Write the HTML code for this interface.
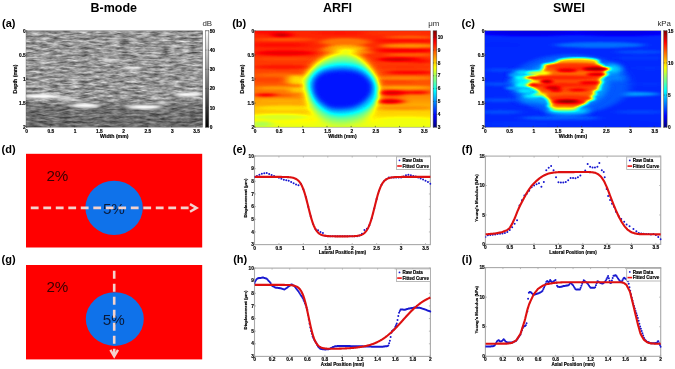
<!DOCTYPE html><html><head><meta charset="utf-8"><style>
html,body{margin:0;padding:0;background:#fff;width:675px;height:369px;overflow:hidden}
svg{display:block;will-change:transform}
text{font-family:"Liberation Sans", sans-serif}
.t{stroke:#000;stroke-width:0.16px}
</style></head><body>
<svg width="675" height="369" viewBox="0 0 675 369">
<defs>
<filter id="jet" x="0" y="0" width="1" height="1" color-interpolation-filters="sRGB">
<feComponentTransfer>
<feFuncR type="table" tableValues="0 0 0 0 0.5 1 1 1 0.5"/>
<feFuncG type="table" tableValues="0 0 0.5 1 1 1 0.5 0 0"/>
<feFuncB type="table" tableValues="0.5 1 1 1 0.5 0 0 0 0"/>
</feComponentTransfer></filter>
<clipPath id="clipa"><rect x="26" y="30.8" width="176.7" height="96.4"/></clipPath>
<clipPath id="clipb"><rect x="254.4" y="30.8" width="176.1" height="96.4"/></clipPath>
<clipPath id="clipc"><rect x="484.8" y="30.8" width="176.2" height="96.4"/></clipPath>
<linearGradient id="gjet" x1="0" y1="1" x2="0" y2="0"><stop offset="0" stop-color="#000080"/><stop offset="0.12" stop-color="#0000ff"/><stop offset="0.38" stop-color="#00ffff"/><stop offset="0.62" stop-color="#ffff00"/><stop offset="0.88" stop-color="#ff0000"/><stop offset="1" stop-color="#800000"/></linearGradient>
<linearGradient id="ggray" x1="0" y1="1" x2="0" y2="0"><stop offset="0" stop-color="#000"/><stop offset="1" stop-color="#fff"/></linearGradient>
</defs>
<rect width="675" height="369" fill="#fff"/>
<text x="113.8" y="11.9" font-size="12.5" font-weight="bold" text-anchor="middle" fill="#000">B-mode</text>
<text x="337.5" y="11.9" font-size="12.5" font-weight="bold" text-anchor="middle" fill="#000">ARFI</text>
<text x="569" y="11.9" font-size="12.5" font-weight="bold" text-anchor="middle" fill="#000">SWEI</text>
<text x="2" y="26.6" font-size="11" font-weight="bold" text-anchor="start" fill="#000">(a)</text>
<text x="232.2" y="26.6" font-size="11" font-weight="bold" text-anchor="start" fill="#000">(b)</text>
<text x="461.6" y="26.6" font-size="11" font-weight="bold" text-anchor="start" fill="#000">(c)</text>
<text x="1.6" y="152.7" font-size="11" font-weight="bold" text-anchor="start" fill="#000">(d)</text>
<text x="232.8" y="152.7" font-size="11" font-weight="bold" text-anchor="start" fill="#000">(e)</text>
<text x="461.8" y="152.7" font-size="11" font-weight="bold" text-anchor="start" fill="#000">(f)</text>
<text x="1.6" y="262.7" font-size="11" font-weight="bold" text-anchor="start" fill="#000">(g)</text>
<text x="233.2" y="262.7" font-size="11" font-weight="bold" text-anchor="start" fill="#000">(h)</text>
<text x="461.8" y="262.7" font-size="11" font-weight="bold" text-anchor="start" fill="#000">(i)</text>
<filter id="fb" x="22" y="26.8" width="184.7" height="104.4" filterUnits="userSpaceOnUse" color-interpolation-filters="sRGB">
<feTurbulence type="fractalNoise" baseFrequency="0.1 0.42" numOctaves="3" seed="11" result="n"/>
<feColorMatrix in="n" type="matrix" values="0.78 0 0 0 0.2  0.78 0 0 0 0.2  0.78 0 0 0 0.2  0 0 0 0 1"/>
<feGaussianBlur stdDeviation="0.6 0.35"/>
</filter>
<filter id="fblur1" x="-50%" y="-50%" width="200%" height="200%"><feGaussianBlur stdDeviation="3 0.9"/></filter>
<g clip-path="url(#clipa)">
<rect x="22" y="26.8" width="184.7" height="104.4" fill="#808080" filter="url(#fb)"/>
<linearGradient id="gbdark" x1="0" y1="0" x2="0" y2="1"><stop offset="0" stop-color="#000" stop-opacity="0"/><stop offset="0.70" stop-color="#000" stop-opacity="0"/><stop offset="0.78" stop-color="#000" stop-opacity="0.25"/><stop offset="1" stop-color="#000" stop-opacity="0.3"/></linearGradient>
<rect x="26" y="30.8" width="176.7" height="96.4" fill="url(#gbdark)"/>
<g filter="url(#fblur1)" fill="#fff">
<ellipse cx="42" cy="96.3" rx="17" ry="2.1" opacity="1"/>
<ellipse cx="36" cy="95.8" rx="9" ry="1.6" opacity="1"/>
<ellipse cx="64" cy="98.3" rx="8" ry="1.7" opacity="0.8"/>
<ellipse cx="74" cy="100.5" rx="7" ry="1.5" opacity="0.55"/>
<ellipse cx="85" cy="105.5" rx="15" ry="2.2" opacity="1"/>
<ellipse cx="88" cy="106" rx="8" ry="1.6" opacity="1"/>
<ellipse cx="144" cy="107" rx="18" ry="2.2" opacity="1"/>
<ellipse cx="148" cy="107.5" rx="9" ry="1.6" opacity="1"/>
<ellipse cx="162" cy="102.5" rx="9" ry="1.5" opacity="0.65"/>
<ellipse cx="188" cy="94.5" rx="14" ry="2" opacity="0.95"/>
<ellipse cx="190" cy="94.3" rx="7" ry="1.4" opacity="0.8"/>
<ellipse cx="111" cy="60.5" rx="7" ry="1.4" opacity="0.9"/>
<ellipse cx="133" cy="68.5" rx="9" ry="1.4" opacity="0.9"/>
<ellipse cx="40" cy="60" rx="4" ry="1" opacity="0.35"/>
<ellipse cx="194" cy="62" rx="5" ry="1" opacity="0.35"/>
<ellipse cx="66" cy="89" rx="7" ry="1.5" opacity="0.25"/>
</g>
</g>
<filter id="fbs" x="-20%" y="-20%" width="140%" height="140%" color-interpolation-filters="sRGB"><feGaussianBlur stdDeviation="5 1.2"/></filter>
<filter id="fbb" x="-30%" y="-30%" width="160%" height="160%" color-interpolation-filters="sRGB"><feGaussianBlur stdDeviation="3.5"/></filter>
<filter id="fbb2" x="-30%" y="-30%" width="160%" height="160%" color-interpolation-filters="sRGB"><feGaussianBlur stdDeviation="2.4"/></filter>
<linearGradient id="garfi" x1="0" y1="0" x2="0" y2="1"><stop offset="0" stop-color="#d6d6d6"/><stop offset="0.2" stop-color="#d6d6d6"/><stop offset="0.4" stop-color="#cfcfcf"/><stop offset="0.55" stop-color="#c9c9c9"/><stop offset="0.65" stop-color="#bebebe"/><stop offset="0.75" stop-color="#b4b4b4"/><stop offset="0.85" stop-color="#a7a7a7"/><stop offset="0.92" stop-color="#9c9c9c"/><stop offset="1" stop-color="#969696"/></linearGradient>
<g clip-path="url(#clipb)"><g filter="url(#jet)">
<g filter="url(#fbs)">
<rect x="239.4" y="25.8" width="206.1" height="106.4" fill="url(#garfi)"/>
<ellipse cx="270" cy="32" rx="20" ry="2" fill="#dddddd"/>
<ellipse cx="282" cy="35" rx="9" ry="2" fill="#eeeeee"/>
<ellipse cx="284" cy="39.5" rx="32" ry="1.5" fill="#c9c9c9"/>
<ellipse cx="280" cy="45" rx="30" ry="2" fill="#dddddd"/>
<ellipse cx="285" cy="53" rx="30" ry="2.5" fill="#e4e4e4"/>
<ellipse cx="285" cy="59" rx="30" ry="1.6" fill="#cccccc"/>
<ellipse cx="282" cy="67" rx="30" ry="2.2" fill="#dadada"/>
<ellipse cx="280" cy="75" rx="25" ry="2" fill="#c5c5c5"/>
<ellipse cx="340" cy="33" rx="25" ry="2" fill="#dadada"/>
<ellipse cx="345" cy="42" rx="25" ry="4" fill="#c2c2c2"/>
<ellipse cx="346" cy="48" rx="22" ry="3" fill="#b4b4b4"/>
<ellipse cx="350" cy="51" rx="12" ry="2.2" fill="#a7a7a7"/>
<ellipse cx="330" cy="50" rx="10" ry="2" fill="#bebebe"/>
<ellipse cx="362" cy="52" rx="10" ry="2" fill="#bebebe"/>
<ellipse cx="400" cy="33" rx="35" ry="2.5" fill="#d3d3d3"/>
<ellipse cx="410" cy="37.3" rx="25" ry="1.2" fill="#c2c2c2"/>
<ellipse cx="405" cy="40.5" rx="30" ry="1.8" fill="#dddddd"/>
<ellipse cx="410" cy="45.8" rx="30" ry="2.2" fill="#bbbbbb"/>
<ellipse cx="405" cy="50.6" rx="30" ry="1.8" fill="#e4e4e4"/>
<ellipse cx="410" cy="54.7" rx="25" ry="1.5" fill="#c5c5c5"/>
<ellipse cx="400" cy="59.5" rx="22" ry="2" fill="#ebebeb"/>
<ellipse cx="420" cy="61" rx="12" ry="2" fill="#dddddd"/>
<ellipse cx="405" cy="67" rx="30" ry="2" fill="#d3d3d3"/>
<ellipse cx="410" cy="72.5" rx="25" ry="1.8" fill="#e0e0e0"/>
<ellipse cx="405" cy="78" rx="30" ry="2" fill="#bebebe"/>
<ellipse cx="396" cy="82" rx="18" ry="1.6" fill="#cfcfcf"/>
<ellipse cx="405" cy="87.5" rx="30" ry="1.5" fill="#b4b4b4"/>
<ellipse cx="392" cy="92.8" rx="16" ry="2.6" fill="#e7e7e7"/>
<ellipse cx="418" cy="92.5" rx="12" ry="1.7" fill="#e0e0e0"/>
<ellipse cx="392" cy="97" rx="14" ry="0.8" fill="#cfcfcf"/>
<ellipse cx="390" cy="101.4" rx="14" ry="2.6" fill="#e7e7e7"/>
<ellipse cx="405" cy="108" rx="30" ry="2" fill="#bbbbbb"/>
<ellipse cx="405" cy="113" rx="30" ry="2" fill="#aaaaaa"/>
<ellipse cx="405" cy="120" rx="30" ry="3" fill="#9c9c9c"/>
<ellipse cx="270" cy="80" rx="20" ry="2" fill="#cfcfcf"/>
<ellipse cx="280" cy="88" rx="25" ry="2" fill="#b8b8b8"/>
<ellipse cx="296" cy="80" rx="9" ry="5" fill="#a7a7a7"/>
<ellipse cx="297" cy="90" rx="7" ry="3" fill="#aaaaaa"/>
<ellipse cx="266" cy="95" rx="12" ry="1.6" fill="#e7e7e7"/>
<ellipse cx="285" cy="95.5" rx="10" ry="1.5" fill="#c9c9c9"/>
<ellipse cx="280" cy="101" rx="25" ry="2" fill="#b4b4b4"/>
<ellipse cx="285" cy="108" rx="30" ry="2.5" fill="#a7a7a7"/>
<ellipse cx="280" cy="117" rx="30" ry="3" fill="#969696"/>
<ellipse cx="262" cy="124" rx="10" ry="3" fill="#8b8b8b"/>
</g>
<g filter="url(#fbb)">
<path d="M303 82 Q305 74 318 62 Q330 53 344 52 Q357 53 364 61 Q374 71 378 83 Q379 92 377 100 Q374 112 364 119 Q346 126 328 122 Q314 116 308 102Z" fill="#777777" opacity="0.92"/>
</g>
<g filter="url(#fbb2)">
<path d="M307.5 86 Q308 76 320 68 Q332 63 342 63 Q356 63 364 68 Q373 75 376.5 84 Q378 92 376 99 Q372 108 358 113 Q342 118 329 114 Q317 108 312 98Z" fill="#525252" opacity="0.95"/>
</g>
<g filter="url(#fbb2)">
<path d="M313 84 Q314 75 325 71 Q333 69 342 69 Q353 69 360 72 Q368 76 371.5 83 Q373.5 89 370.5 95 Q365 104 353 108 Q342 110.5 330 108.5 Q320 104 316 97 Q312.5 91 313 84Z" fill="#252525"/>
</g>
</g></g>
<filter id="fcs" x="-20%" y="-20%" width="140%" height="140%" color-interpolation-filters="sRGB"><feGaussianBlur stdDeviation="4 1.3"/></filter>
<filter id="fch" x="-30%" y="-30%" width="160%" height="160%" color-interpolation-filters="sRGB"><feGaussianBlur stdDeviation="3.5 2.2"/></filter>
<filter id="fcb" x="-30%" y="-30%" width="160%" height="160%" color-interpolation-filters="sRGB"><feGaussianBlur stdDeviation="2 1.2"/></filter>
<filter id="fce" x="-30%" y="-30%" width="160%" height="160%" color-interpolation-filters="sRGB"><feGaussianBlur stdDeviation="2 1"/></filter>
<filter id="fcd" x="-30%" y="-30%" width="160%" height="160%" color-interpolation-filters="sRGB"><feGaussianBlur stdDeviation="2 0.8"/></filter>
<g clip-path="url(#clipc)"><g filter="url(#jet)">
<g filter="url(#fcs)">
<rect x="469.8" y="25.8" width="206.2" height="106.4" fill="#2a2a2a"/>
<ellipse cx="530" cy="33" rx="50" ry="3" fill="#1a1a1a"/>
<ellipse cx="620" cy="33" rx="50" ry="3" fill="#1b1b1b"/>
<ellipse cx="500" cy="45" rx="20" ry="2" fill="#292929"/>
<ellipse cx="600" cy="45" rx="45" ry="3" fill="#3c3c3c"/>
<ellipse cx="640" cy="52" rx="25" ry="2" fill="#333333"/>
<ellipse cx="500" cy="58" rx="22" ry="2" fill="#2a2a2a"/>
<ellipse cx="640" cy="58" rx="25" ry="2" fill="#2e2e2e"/>
<ellipse cx="500" cy="70" rx="15" ry="2" fill="#313131"/>
<ellipse cx="650" cy="68" rx="18" ry="2" fill="#2c2c2c"/>
<ellipse cx="500" cy="84" rx="18" ry="2" fill="#333333"/>
<ellipse cx="650" cy="84" rx="20" ry="2" fill="#2c2c2c"/>
<ellipse cx="500" cy="100" rx="20" ry="2" fill="#333333"/>
<ellipse cx="628" cy="94" rx="32" ry="2.2" fill="#474747"/>
<ellipse cx="500" cy="112" rx="22" ry="2" fill="#333333"/>
<ellipse cx="560" cy="118" rx="40" ry="2" fill="#383838"/>
<ellipse cx="640" cy="112" rx="25" ry="2" fill="#313131"/>
<ellipse cx="520" cy="124" rx="40" ry="3" fill="#2c2c2c"/>
<ellipse cx="620" cy="124" rx="40" ry="3" fill="#292929"/>
<ellipse cx="570" cy="84" rx="60" ry="30" fill="#363636"/>
</g>
<g filter="url(#fch)">
<ellipse cx="566" cy="84" rx="42" ry="24" fill="#4e4e4e" opacity="0.8"/>
<ellipse cx="521" cy="73" rx="9" ry="2.2" fill="#666666" opacity="0.8"/>
<ellipse cx="519" cy="81" rx="9" ry="2.5" fill="#696969" opacity="0.8"/>
<ellipse cx="522" cy="89" rx="9" ry="2.2" fill="#636363" opacity="0.8"/>
<ellipse cx="528" cy="96" rx="9" ry="2" fill="#5f5f5f" opacity="0.7"/>
<ellipse cx="612" cy="69" rx="10" ry="5" fill="#5c5c5c" opacity="0.8"/>
<ellipse cx="616" cy="78" rx="10" ry="2" fill="#4e4e4e" opacity="0.7"/>
<ellipse cx="568" cy="111" rx="22" ry="3.5" fill="#636363" opacity="0.8"/>
<ellipse cx="530" cy="101" rx="12" ry="1.5" fill="#555555" opacity="0.7"/>
</g>
<g filter="url(#fce)">
<ellipse cx="521" cy="77.6" rx="7" ry="2" fill="#666666"/>
<ellipse cx="522" cy="85" rx="7" ry="2" fill="#666666"/>
<ellipse cx="523" cy="81.5" rx="6" ry="1.5" fill="#5f5f5f"/>
<ellipse cx="524" cy="72.5" rx="7" ry="1.6" fill="#585858"/>
<ellipse cx="526" cy="91" rx="8" ry="1.8" fill="#5c5c5c"/>
<ellipse cx="532" cy="96" rx="8" ry="1.6" fill="#5f5f5f"/>
<ellipse cx="514" cy="75" rx="6" ry="1.5" fill="#4b4b4b"/>
<ellipse cx="513" cy="88" rx="8" ry="1.5" fill="#4b4b4b"/>
</g>
<g filter="url(#fcb)">
<path d="M545 66 Q558 60 578 60 Q594 60 600 65 L606 69 L604 76 L600 80 L600 86 L595 90 L591 98 L585 104 L576 107.5 L560 107.5 L551 103 L547 98 L541 95 L538 91 L531 87 L530 83 L533 78 L538 74 L542 70Z" fill="#c9c9c9"/>
<ellipse cx="578" cy="61.5" rx="21" ry="3.5" fill="#b1b1b1"/>
<ellipse cx="573" cy="65.5" rx="30" ry="3" fill="#d1d1d1"/>
<ellipse cx="582" cy="69" rx="28" ry="2.5" fill="#d6d6d6"/>
<ellipse cx="567" cy="73" rx="36" ry="2.5" fill="#c5c5c5"/>
<ellipse cx="539" cy="73" rx="12" ry="2" fill="#999999"/>
<ellipse cx="563" cy="77.6" rx="38" ry="2" fill="#d8d8d8"/>
<ellipse cx="565" cy="81.7" rx="38" ry="2" fill="#cccccc"/>
<ellipse cx="536" cy="81.7" rx="9" ry="1.5" fill="#9c9c9c"/>
<ellipse cx="563" cy="85" rx="36" ry="2" fill="#d8d8d8"/>
<ellipse cx="569" cy="89" rx="31" ry="2.5" fill="#cfcfcf"/>
<ellipse cx="570" cy="94" rx="26" ry="2.5" fill="#c9c9c9"/>
<ellipse cx="540" cy="94.5" rx="7" ry="1.5" fill="#969696"/>
<ellipse cx="571" cy="98.5" rx="23" ry="3" fill="#d4d4d4"/>
<ellipse cx="568" cy="102.5" rx="19" ry="2.5" fill="#dbdbdb"/>
<ellipse cx="564" cy="106" rx="16" ry="2" fill="#c9c9c9"/>
<ellipse cx="564" cy="109.2" rx="14" ry="1.8" fill="#929292"/>
</g>
<g filter="url(#fcd)">
<ellipse cx="596" cy="68.8" rx="13" ry="1.6" fill="#ffffff"/>
<ellipse cx="597" cy="74.3" rx="11" ry="1.3" fill="#f8f8f8"/>
<ellipse cx="567" cy="70.5" rx="10" ry="1.3" fill="#f1f1f1"/>
<ellipse cx="531" cy="77.6" rx="6" ry="1.2" fill="#ebebeb"/>
<ellipse cx="532" cy="85" rx="6" ry="1.2" fill="#e7e7e7"/>
<ellipse cx="546" cy="81.5" rx="7" ry="1.5" fill="#fcfcfc"/>
<ellipse cx="553" cy="87.7" rx="8" ry="1.3" fill="#f8f8f8"/>
<ellipse cx="556" cy="90.5" rx="6" ry="1.1" fill="#f1f1f1"/>
<ellipse cx="567" cy="101.3" rx="12" ry="1.6" fill="#ffffff"/>
<ellipse cx="590" cy="82.6" rx="11" ry="1.2" fill="#eeeeee"/>
<ellipse cx="578" cy="90" rx="10" ry="1.2" fill="#e7e7e7"/>
</g>
</g></g>
<rect x="26" y="30.8" width="176.7" height="96.4" fill="none" stroke="#555" stroke-width="0.5" opacity="0.7"/>
<path d="M26 127.2v-1.3M50.27 127.2v-1.3M74.54 127.2v-1.3M98.82 127.2v-1.3M123.09 127.2v-1.3M147.36 127.2v-1.3M171.63 127.2v-1.3M195.9 127.2v-1.3M26 30.8h1.3M26 54.9h1.3M26 79h1.3M26 103.1h1.3M26 127.2h1.3" stroke="#333" stroke-width="0.6" fill="none"/>
<text x="26.6" y="133.1" class="t" font-size="4.8" font-weight="bold" text-anchor="middle" fill="#000">0</text>
<text x="50.87" y="133.1" class="t" font-size="4.8" font-weight="bold" text-anchor="middle" fill="#000">0.5</text>
<text x="75.14" y="133.1" class="t" font-size="4.8" font-weight="bold" text-anchor="middle" fill="#000">1</text>
<text x="99.42" y="133.1" class="t" font-size="4.8" font-weight="bold" text-anchor="middle" fill="#000">1.5</text>
<text x="123.69" y="133.1" class="t" font-size="4.8" font-weight="bold" text-anchor="middle" fill="#000">2</text>
<text x="147.96" y="133.1" class="t" font-size="4.8" font-weight="bold" text-anchor="middle" fill="#000">2.5</text>
<text x="172.23" y="133.1" class="t" font-size="4.8" font-weight="bold" text-anchor="middle" fill="#000">3</text>
<text x="196.5" y="133.1" class="t" font-size="4.8" font-weight="bold" text-anchor="middle" fill="#000">3.5</text>
<text x="25.7" y="32.5" class="t" font-size="4.8" font-weight="bold" text-anchor="end" fill="#000">0</text>
<text x="25.7" y="56.6" class="t" font-size="4.8" font-weight="bold" text-anchor="end" fill="#000">0.5</text>
<text x="25.7" y="80.7" class="t" font-size="4.8" font-weight="bold" text-anchor="end" fill="#000">1</text>
<text x="25.7" y="104.8" class="t" font-size="4.8" font-weight="bold" text-anchor="end" fill="#000">1.5</text>
<text x="25.7" y="128.9" class="t" font-size="4.8" font-weight="bold" text-anchor="end" fill="#000">2</text>
<text x="114.35" y="138.4" class="t" font-size="5.2" font-weight="bold" text-anchor="middle" fill="#000">Width (mm)</text>
<text transform="translate(17.2 79) rotate(-90)" class="t" font-size="5.2" font-weight="bold" text-anchor="middle" fill="#000">Depth (mm)</text>
<rect x="254.4" y="30.8" width="176.1" height="96.4" fill="none" stroke="#555" stroke-width="0.5" opacity="0.7"/>
<path d="M254.4 127.2v-1.3M278.59 127.2v-1.3M302.78 127.2v-1.3M326.97 127.2v-1.3M351.16 127.2v-1.3M375.35 127.2v-1.3M399.54 127.2v-1.3M423.73 127.2v-1.3M254.4 30.8h1.3M254.4 54.9h1.3M254.4 79h1.3M254.4 103.1h1.3M254.4 127.2h1.3" stroke="#333" stroke-width="0.6" fill="none"/>
<text x="255" y="133.1" class="t" font-size="4.8" font-weight="bold" text-anchor="middle" fill="#000">0</text>
<text x="279.19" y="133.1" class="t" font-size="4.8" font-weight="bold" text-anchor="middle" fill="#000">0.5</text>
<text x="303.38" y="133.1" class="t" font-size="4.8" font-weight="bold" text-anchor="middle" fill="#000">1</text>
<text x="327.57" y="133.1" class="t" font-size="4.8" font-weight="bold" text-anchor="middle" fill="#000">1.5</text>
<text x="351.76" y="133.1" class="t" font-size="4.8" font-weight="bold" text-anchor="middle" fill="#000">2</text>
<text x="375.95" y="133.1" class="t" font-size="4.8" font-weight="bold" text-anchor="middle" fill="#000">2.5</text>
<text x="400.14" y="133.1" class="t" font-size="4.8" font-weight="bold" text-anchor="middle" fill="#000">3</text>
<text x="424.33" y="133.1" class="t" font-size="4.8" font-weight="bold" text-anchor="middle" fill="#000">3.5</text>
<text x="254.1" y="32.5" class="t" font-size="4.8" font-weight="bold" text-anchor="end" fill="#000">0</text>
<text x="254.1" y="56.6" class="t" font-size="4.8" font-weight="bold" text-anchor="end" fill="#000">0.5</text>
<text x="254.1" y="80.7" class="t" font-size="4.8" font-weight="bold" text-anchor="end" fill="#000">1</text>
<text x="254.1" y="104.8" class="t" font-size="4.8" font-weight="bold" text-anchor="end" fill="#000">1.5</text>
<text x="254.1" y="128.9" class="t" font-size="4.8" font-weight="bold" text-anchor="end" fill="#000">2</text>
<text x="342.45" y="138.4" class="t" font-size="5.2" font-weight="bold" text-anchor="middle" fill="#000">Width (mm)</text>
<text transform="translate(244 79) rotate(-90)" class="t" font-size="5.2" font-weight="bold" text-anchor="middle" fill="#000">Depth (mm)</text>
<rect x="484.8" y="30.8" width="176.2" height="96.4" fill="none" stroke="#555" stroke-width="0.5" opacity="0.7"/>
<path d="M484.8 127.2v-1.3M509 127.2v-1.3M533.21 127.2v-1.3M557.41 127.2v-1.3M581.61 127.2v-1.3M605.82 127.2v-1.3M630.02 127.2v-1.3M654.22 127.2v-1.3M484.8 30.8h1.3M484.8 54.9h1.3M484.8 79h1.3M484.8 103.1h1.3M484.8 127.2h1.3" stroke="#333" stroke-width="0.6" fill="none"/>
<text x="485.4" y="133.1" class="t" font-size="4.8" font-weight="bold" text-anchor="middle" fill="#000">0</text>
<text x="509.6" y="133.1" class="t" font-size="4.8" font-weight="bold" text-anchor="middle" fill="#000">0.5</text>
<text x="533.81" y="133.1" class="t" font-size="4.8" font-weight="bold" text-anchor="middle" fill="#000">1</text>
<text x="558.01" y="133.1" class="t" font-size="4.8" font-weight="bold" text-anchor="middle" fill="#000">1.5</text>
<text x="582.21" y="133.1" class="t" font-size="4.8" font-weight="bold" text-anchor="middle" fill="#000">2</text>
<text x="606.42" y="133.1" class="t" font-size="4.8" font-weight="bold" text-anchor="middle" fill="#000">2.5</text>
<text x="630.62" y="133.1" class="t" font-size="4.8" font-weight="bold" text-anchor="middle" fill="#000">3</text>
<text x="654.82" y="133.1" class="t" font-size="4.8" font-weight="bold" text-anchor="middle" fill="#000">3.5</text>
<text x="484.5" y="32.5" class="t" font-size="4.8" font-weight="bold" text-anchor="end" fill="#000">0</text>
<text x="484.5" y="56.6" class="t" font-size="4.8" font-weight="bold" text-anchor="end" fill="#000">0.5</text>
<text x="484.5" y="80.7" class="t" font-size="4.8" font-weight="bold" text-anchor="end" fill="#000">1</text>
<text x="484.5" y="104.8" class="t" font-size="4.8" font-weight="bold" text-anchor="end" fill="#000">1.5</text>
<text x="484.5" y="128.9" class="t" font-size="4.8" font-weight="bold" text-anchor="end" fill="#000">2</text>
<text x="572.9" y="138.4" class="t" font-size="5.2" font-weight="bold" text-anchor="middle" fill="#000">Width (mm)</text>
<text transform="translate(474.4 79) rotate(-90)" class="t" font-size="5.2" font-weight="bold" text-anchor="middle" fill="#000">Depth (mm)</text>
<rect x="205.5" y="30.8" width="3.3" height="96.4" fill="url(#ggray)" stroke="#444" stroke-width="0.5"/>
<path d="M205.5 127.2h1M208.8 127.2h-1" stroke="#333" stroke-width="0.5"/>
<text x="209.7" y="128.9" class="t" font-size="4.8" font-weight="bold" fill="#000">0</text>
<path d="M205.5 107.92h1M208.8 107.92h-1" stroke="#333" stroke-width="0.5"/>
<text x="209.7" y="109.62" class="t" font-size="4.8" font-weight="bold" fill="#000">10</text>
<path d="M205.5 88.64h1M208.8 88.64h-1" stroke="#333" stroke-width="0.5"/>
<text x="209.7" y="90.34" class="t" font-size="4.8" font-weight="bold" fill="#000">20</text>
<path d="M205.5 69.36h1M208.8 69.36h-1" stroke="#333" stroke-width="0.5"/>
<text x="209.7" y="71.06" class="t" font-size="4.8" font-weight="bold" fill="#000">30</text>
<path d="M205.5 50.08h1M208.8 50.08h-1" stroke="#333" stroke-width="0.5"/>
<text x="209.7" y="51.78" class="t" font-size="4.8" font-weight="bold" fill="#000">40</text>
<path d="M205.5 30.8h1M208.8 30.8h-1" stroke="#333" stroke-width="0.5"/>
<text x="209.7" y="32.5" class="t" font-size="4.8" font-weight="bold" fill="#000">50</text>
<text x="207.3" y="26" font-size="7.9" text-anchor="middle" fill="#2a2a2a">dB</text>
<rect x="433.1" y="30.8" width="3.7" height="96.4" fill="url(#gjet)" stroke="#444" stroke-width="0.5"/>
<path d="M433.1 127.2h1M436.8 127.2h-1" stroke="#333" stroke-width="0.5"/>
<text x="437.7" y="128.9" class="t" font-size="4.8" font-weight="bold" fill="#000">3</text>
<path d="M433.1 114.35h1M436.8 114.35h-1" stroke="#333" stroke-width="0.5"/>
<text x="437.7" y="116.05" class="t" font-size="4.8" font-weight="bold" fill="#000">4</text>
<path d="M433.1 101.49h1M436.8 101.49h-1" stroke="#333" stroke-width="0.5"/>
<text x="437.7" y="103.19" class="t" font-size="4.8" font-weight="bold" fill="#000">5</text>
<path d="M433.1 88.64h1M436.8 88.64h-1" stroke="#333" stroke-width="0.5"/>
<text x="437.7" y="90.34" class="t" font-size="4.8" font-weight="bold" fill="#000">6</text>
<path d="M433.1 75.79h1M436.8 75.79h-1" stroke="#333" stroke-width="0.5"/>
<text x="437.7" y="77.49" class="t" font-size="4.8" font-weight="bold" fill="#000">7</text>
<path d="M433.1 62.93h1M436.8 62.93h-1" stroke="#333" stroke-width="0.5"/>
<text x="437.7" y="64.63" class="t" font-size="4.8" font-weight="bold" fill="#000">8</text>
<path d="M433.1 50.08h1M436.8 50.08h-1" stroke="#333" stroke-width="0.5"/>
<text x="437.7" y="51.78" class="t" font-size="4.8" font-weight="bold" fill="#000">9</text>
<path d="M433.1 37.23h1M436.8 37.23h-1" stroke="#333" stroke-width="0.5"/>
<text x="437.7" y="38.93" class="t" font-size="4.8" font-weight="bold" fill="#000">10</text>
<text x="433.7" y="26" font-size="7.9" text-anchor="middle" fill="#2a2a2a">μm</text>
<rect x="663.7" y="30.8" width="3.4" height="96.4" fill="url(#gjet)" stroke="#444" stroke-width="0.5"/>
<path d="M663.7 127.2h1M667.1 127.2h-1" stroke="#333" stroke-width="0.5"/>
<text x="668" y="128.9" class="t" font-size="4.8" font-weight="bold" fill="#000">0</text>
<path d="M663.7 95.07h1M667.1 95.07h-1" stroke="#333" stroke-width="0.5"/>
<text x="668" y="96.77" class="t" font-size="4.8" font-weight="bold" fill="#000">5</text>
<path d="M663.7 62.93h1M667.1 62.93h-1" stroke="#333" stroke-width="0.5"/>
<text x="668" y="64.63" class="t" font-size="4.8" font-weight="bold" fill="#000">10</text>
<path d="M663.7 30.8h1M667.1 30.8h-1" stroke="#333" stroke-width="0.5"/>
<text x="668" y="32.5" class="t" font-size="4.8" font-weight="bold" fill="#000">15</text>
<text x="664.2" y="26" font-size="7.9" text-anchor="middle" fill="#2a2a2a">kPa</text>
<rect x="26" y="153.8" width="176.2" height="93.7" fill="#ff0000"/>
<ellipse cx="114.1" cy="207.9" rx="28.7" ry="27.1" fill="#0f72ea"/>
<text x="46.4" y="181" font-size="15.2" fill="#3a0000">2%</text>
<text x="102.9" y="214.1" font-size="15.2" fill="#0a1a3a">5%</text>
<line x1="30.8" y1="207.9" x2="192" y2="207.9" stroke="#f4d2cc" stroke-width="2.8" stroke-dasharray="7.8 4.7"/>
<polyline points="190,204.1 196.6,207.9 190,211.7" fill="none" stroke="#f4d2cc" stroke-width="2.4" stroke-linejoin="miter"/>
<rect x="26" y="265" width="176.2" height="94.4" fill="#ff0000"/>
<ellipse cx="114.8" cy="319.1" rx="29" ry="26.8" fill="#0f72ea"/>
<text x="46.4" y="292.2" font-size="15.2" fill="#3a0000">2%</text>
<text x="102.7" y="325.3" font-size="15.2" fill="#0a1a3a">5%</text>
<line x1="114.2" y1="270.8" x2="114.2" y2="355.4" stroke="#f4d2cc" stroke-width="2.6" stroke-dasharray="8 5"/>
<polyline points="110.4,349.9 114.2,356.4 118,349.9" fill="none" stroke="#f4d2cc" stroke-width="2.4"/>
<rect x="254.5" y="156" width="175.9" height="88.6" fill="#fff" stroke="#a9a9a9" stroke-width="1.1"/>
<path d="M254.5 244.6v-1.5M254.5 156v1.5M278.93 244.6v-1.5M278.93 156v1.5M303.36 244.6v-1.5M303.36 156v1.5M327.79 244.6v-1.5M327.79 156v1.5M352.22 244.6v-1.5M352.22 156v1.5M376.65 244.6v-1.5M376.65 156v1.5M401.08 244.6v-1.5M401.08 156v1.5M425.51 244.6v-1.5M425.51 156v1.5M254.5 244.6h1.5M430.4 244.6h-1.5M254.5 231.94h1.5M430.4 231.94h-1.5M254.5 219.29h1.5M430.4 219.29h-1.5M254.5 206.63h1.5M430.4 206.63h-1.5M254.5 193.97h1.5M430.4 193.97h-1.5M254.5 181.31h1.5M430.4 181.31h-1.5M254.5 168.66h1.5M430.4 168.66h-1.5M254.5 156h1.5M430.4 156h-1.5" stroke="#a9a9a9" stroke-width="0.8" fill="none"/>
<text x="254.5" y="249.6" class="t" font-size="4.8" font-weight="bold" text-anchor="middle" fill="#000">0</text>
<text x="278.93" y="249.6" class="t" font-size="4.8" font-weight="bold" text-anchor="middle" fill="#000">0.5</text>
<text x="303.36" y="249.6" class="t" font-size="4.8" font-weight="bold" text-anchor="middle" fill="#000">1</text>
<text x="327.79" y="249.6" class="t" font-size="4.8" font-weight="bold" text-anchor="middle" fill="#000">1.5</text>
<text x="352.22" y="249.6" class="t" font-size="4.8" font-weight="bold" text-anchor="middle" fill="#000">2</text>
<text x="376.65" y="249.6" class="t" font-size="4.8" font-weight="bold" text-anchor="middle" fill="#000">2.5</text>
<text x="401.08" y="249.6" class="t" font-size="4.8" font-weight="bold" text-anchor="middle" fill="#000">3</text>
<text x="425.51" y="249.6" class="t" font-size="4.8" font-weight="bold" text-anchor="middle" fill="#000">3.5</text>
<text x="253.9" y="246.3" class="t" font-size="4.8" font-weight="bold" text-anchor="end" fill="#000">3</text>
<text x="253.9" y="233.64" class="t" font-size="4.8" font-weight="bold" text-anchor="end" fill="#000">4</text>
<text x="253.9" y="220.99" class="t" font-size="4.8" font-weight="bold" text-anchor="end" fill="#000">5</text>
<text x="253.9" y="208.33" class="t" font-size="4.8" font-weight="bold" text-anchor="end" fill="#000">6</text>
<text x="253.9" y="195.67" class="t" font-size="4.8" font-weight="bold" text-anchor="end" fill="#000">7</text>
<text x="253.9" y="183.01" class="t" font-size="4.8" font-weight="bold" text-anchor="end" fill="#000">8</text>
<text x="253.9" y="170.36" class="t" font-size="4.8" font-weight="bold" text-anchor="end" fill="#000">9</text>
<text x="253.9" y="157.7" class="t" font-size="4.8" font-weight="bold" text-anchor="end" fill="#000">10</text>
<text x="342.45" y="254.2" class="t" font-size="4.65" font-weight="bold" text-anchor="middle" fill="#000">Lateral Position (mm)</text>
<text transform="translate(246.9 198.1) rotate(-90)" class="t" font-size="4.35" font-weight="bold" text-anchor="middle" fill="#000">Displacement (μm)</text>
<clipPath id="pce"><rect x="254.5" y="155" width="176.9" height="90.6"/></clipPath>
<g clip-path="url(#pce)">
<path d="M254.5 176.88h0.01M256.94 176h0.01M259.39 174.73h0.01M261.83 173.72h0.01M264.27 173.34h0.01M266.72 173.09h0.01M269.16 173.97h0.01M271.6 174.99h0.01M274.04 176h0.01M276.49 176.88h0.01M278.93 177.77h0.01M281.37 178.78h0.01M283.82 179.8h0.01M286.26 180.3h0.01M288.7 180.68h0.01M291.15 181.95h0.01M293.59 183.21h0.01M296.03 184.48h0.01M298.48 185.36h0.01M300.92 183.98h0.01M303.36 189.29h0.01M305.8 197.07h0.01M308.25 206.63h0.01M310.69 216.19h0.01M313.13 223.96h0.01M315.58 229.28h0.01M318.02 230.23h0.01M320.46 232.05h0.01M322.91 233.02h0.01M325.35 235.82h0.01M327.79 236.25h0.01M330.23 236.25h0.01M332.68 236.25h0.01M335.12 236.25h0.01M337.56 236.25h0.01M340.01 236.25h0.01M342.45 236.25h0.01M344.89 236.25h0.01M347.34 236.25h0.01M349.78 236.25h0.01M352.22 236.25h0.01M354.67 236.25h0.01M357.11 236.25h0.01M359.55 235.43h0.01M361.99 233.84h0.01M364.44 230.04h0.01M366.88 228.78h0.01M369.32 225.22h0.01M371.77 217.93h0.01M374.21 208.61h0.01M376.65 198.88h0.01M379.1 190.65h0.01M381.54 184.85h0.01M383.98 181.26h0.01M386.42 179.21h0.01M388.87 177.52h0.01M391.31 177.52h0.01M393.75 177.52h0.01M396.2 177.52h0.01M398.64 177.52h0.01M401.08 177.52h0.01M403.53 176.5h0.01M405.97 175.24h0.01M408.41 174.73h0.01M410.86 175.24h0.01M413.3 176h0.01M415.74 176.5h0.01M418.18 177.52h0.01M420.63 178.53h0.01M423.07 179.42h0.01M425.51 180.68h0.01M427.96 181.95h0.01M430.4 183.85h0.01" stroke="#1818d0" stroke-width="2.0" stroke-linecap="round" fill="none"/>
<path d="M254.5 176.88 255.09 176.88 255.67 176.88 256.26 176.88 256.85 176.88 257.43 176.88 258.02 176.88 258.6 176.88 259.19 176.88 259.78 176.88 260.36 176.88 260.95 176.88 261.54 176.88 262.12 176.88 262.71 176.88 263.3 176.88 263.88 176.88 264.47 176.88 265.05 176.88 265.64 176.88 266.23 176.88 266.81 176.89 267.4 176.89 267.99 176.89 268.57 176.89 269.16 176.89 269.74 176.89 270.33 176.89 270.92 176.89 271.5 176.89 272.09 176.89 272.68 176.89 273.26 176.89 273.85 176.89 274.44 176.89 275.02 176.89 275.61 176.89 276.19 176.89 276.78 176.9 277.37 176.9 277.95 176.9 278.54 176.9 279.13 176.91 279.71 176.91 280.3 176.91 280.88 176.92 281.47 176.92 282.06 176.93 282.64 176.94 283.23 176.95 283.82 176.96 284.4 176.97 284.99 176.99 285.58 177.01 286.16 177.03 286.75 177.05 287.33 177.08 287.92 177.12 288.51 177.16 289.09 177.2 289.68 177.26 290.27 177.32 290.85 177.4 291.44 177.48 292.03 177.59 292.61 177.71 293.2 177.85 293.78 178.01 294.37 178.2 294.96 178.43 295.54 178.69 296.13 178.99 296.72 179.34 297.3 179.74 297.89 180.21 298.48 180.75 299.06 181.37 299.65 182.08 300.23 182.89 300.82 183.81 301.41 184.85 301.99 186.02 302.58 187.33 303.17 188.78 303.75 190.37 304.34 192.12 304.92 194 305.51 196.01 306.1 198.15 306.68 200.38 307.27 202.69 307.86 205.04 308.44 207.42 309.03 209.79 309.62 212.12 310.2 214.38 310.79 216.55 311.37 218.6 311.96 220.53 312.55 222.32 313.13 223.96 313.72 225.46 314.31 226.82 314.89 228.03 315.48 229.11 316.06 230.07 316.65 230.92 317.24 231.66 317.82 232.31 318.41 232.88 319 233.37 319.58 233.79 320.17 234.16 320.76 234.48 321.34 234.75 321.93 234.98 322.51 235.18 323.1 235.36 323.69 235.51 324.27 235.63 324.86 235.74 325.45 235.83 326.03 235.91 326.62 235.98 327.21 236.04 327.79 236.09 328.38 236.13 328.96 236.16 329.55 236.2 330.14 236.22 330.72 236.24 331.31 236.26 331.9 236.28 332.48 236.29 333.07 236.3 333.65 236.31 334.24 236.32 334.83 236.33 335.41 236.34 336 236.34 336.59 236.35 337.17 236.35 337.76 236.35 338.35 236.35 338.93 236.36 339.52 236.36 340.1 236.36 340.69 236.36 341.28 236.36 341.86 236.36 342.45 236.36 343.04 236.36 343.62 236.36 344.21 236.36 344.8 236.35 345.38 236.35 345.97 236.35 346.55 236.34 347.14 236.34 347.73 236.33 348.31 236.33 348.9 236.32 349.49 236.31 350.07 236.3 350.66 236.29 351.25 236.27 351.83 236.26 352.42 236.24 353 236.21 353.59 236.19 354.18 236.15 354.76 236.12 355.35 236.07 355.94 236.02 356.52 235.96 357.11 235.89 357.69 235.8 358.28 235.71 358.87 235.59 359.45 235.46 360.04 235.3 360.63 235.12 361.21 234.91 361.8 234.66 362.39 234.38 362.97 234.04 363.56 233.66 364.14 233.21 364.73 232.7 365.32 232.1 365.9 231.43 366.49 230.65 367.08 229.77 367.66 228.77 368.25 227.64 368.83 226.38 369.42 224.98 370.01 223.43 370.59 221.74 371.18 219.9 371.77 217.93 372.35 215.83 372.94 213.63 373.53 211.35 374.11 209 374.7 206.63 375.28 204.25 375.87 201.91 376.46 199.62 377.04 197.42 377.63 195.33 378.22 193.36 378.8 191.52 379.39 189.83 379.98 188.28 380.56 186.88 381.15 185.62 381.73 184.49 382.32 183.49 382.91 182.61 383.49 181.83 384.08 181.15 384.67 180.56 385.25 180.05 385.84 179.6 386.42 179.21 387.01 178.88 387.6 178.59 388.18 178.35 388.77 178.14 389.36 177.95 389.94 177.8 390.53 177.67 391.12 177.55 391.7 177.45 392.29 177.37 392.87 177.3 393.46 177.24 394.05 177.19 394.63 177.14 395.22 177.1 395.81 177.07 396.39 177.04 396.98 177.02 397.57 177 398.15 176.98 398.74 176.97 399.32 176.96 399.91 176.95 400.5 176.94 401.08 176.93 401.67 176.92 402.26 176.92 402.84 176.91 403.43 176.91 404.01 176.9 404.6 176.9 405.19 176.9 405.77 176.9 406.36 176.89 406.95 176.89 407.53 176.89 408.12 176.89 408.71 176.89 409.29 176.89 409.88 176.89 410.46 176.89 411.05 176.89 411.64 176.89 412.22 176.89 412.81 176.89 413.4 176.89 413.98 176.89 414.57 176.89 415.16 176.89 415.74 176.89 416.33 176.88 416.91 176.88 417.5 176.88 418.09 176.88 418.67 176.88 419.26 176.88 419.85 176.88 420.43 176.88 421.02 176.88 421.6 176.88 422.19 176.88 422.78 176.88 423.36 176.88 423.95 176.88 424.54 176.88 425.12 176.88 425.71 176.88 426.3 176.88 426.88 176.88 427.47 176.88 428.05 176.88 428.64 176.88 429.23 176.88 429.81 176.88 430.4 176.88" stroke="#dd1010" stroke-width="2.1" stroke-linejoin="round" fill="none"/>
</g>
<rect x="396.4" y="156.8" width="34" height="12.6" fill="#fff" stroke="#a9a9a9" stroke-width="0.8"/>
<circle cx="399.5" cy="160.3" r="0.9" fill="#1818d0"/>
<line x1="397.2" y1="166" x2="401.8" y2="166" stroke="#ee1111" stroke-width="1.6"/>
<text x="402.4" y="162" class="t" font-size="4.55" font-weight="bold" fill="#000">Raw Data</text>
<text x="402.4" y="167.7" class="t" font-size="4.55" font-weight="bold" fill="#000">Fitted Curve</text>
<rect x="485.4" y="156.1" width="175.3" height="88.3" fill="#fff" stroke="#a9a9a9" stroke-width="1.1"/>
<path d="M485.4 244.4v-1.5M485.4 156.1v1.5M509.75 244.4v-1.5M509.75 156.1v1.5M534.09 244.4v-1.5M534.09 156.1v1.5M558.44 244.4v-1.5M558.44 156.1v1.5M582.79 244.4v-1.5M582.79 156.1v1.5M607.14 244.4v-1.5M607.14 156.1v1.5M631.48 244.4v-1.5M631.48 156.1v1.5M655.83 244.4v-1.5M655.83 156.1v1.5M485.4 244.4h1.5M660.7 244.4h-1.5M485.4 214.97h1.5M660.7 214.97h-1.5M485.4 185.53h1.5M660.7 185.53h-1.5M485.4 156.1h1.5M660.7 156.1h-1.5" stroke="#a9a9a9" stroke-width="0.8" fill="none"/>
<text x="485.4" y="249.4" class="t" font-size="4.8" font-weight="bold" text-anchor="middle" fill="#000">0</text>
<text x="509.75" y="249.4" class="t" font-size="4.8" font-weight="bold" text-anchor="middle" fill="#000">0.5</text>
<text x="534.09" y="249.4" class="t" font-size="4.8" font-weight="bold" text-anchor="middle" fill="#000">1</text>
<text x="558.44" y="249.4" class="t" font-size="4.8" font-weight="bold" text-anchor="middle" fill="#000">1.5</text>
<text x="582.79" y="249.4" class="t" font-size="4.8" font-weight="bold" text-anchor="middle" fill="#000">2</text>
<text x="607.14" y="249.4" class="t" font-size="4.8" font-weight="bold" text-anchor="middle" fill="#000">2.5</text>
<text x="631.48" y="249.4" class="t" font-size="4.8" font-weight="bold" text-anchor="middle" fill="#000">3</text>
<text x="655.83" y="249.4" class="t" font-size="4.8" font-weight="bold" text-anchor="middle" fill="#000">3.5</text>
<text x="484.8" y="246.1" class="t" font-size="4.8" font-weight="bold" text-anchor="end" fill="#000">0</text>
<text x="484.8" y="216.67" class="t" font-size="4.8" font-weight="bold" text-anchor="end" fill="#000">5</text>
<text x="484.8" y="187.23" class="t" font-size="4.8" font-weight="bold" text-anchor="end" fill="#000">10</text>
<text x="484.8" y="157.8" class="t" font-size="4.8" font-weight="bold" text-anchor="end" fill="#000">15</text>
<text x="573.05" y="254" class="t" font-size="4.65" font-weight="bold" text-anchor="middle" fill="#000">Lateral Position (mm)</text>
<text transform="translate(477.8 198.05) rotate(-90)" class="t" font-size="4.35" font-weight="bold" text-anchor="middle" fill="#000">Young’s Modulus (kPa)</text>
<clipPath id="pcf"><rect x="485.4" y="155.1" width="176.3" height="90.3"/></clipPath>
<g clip-path="url(#pcf)">
<path d="M485.4 237.04h0.01M487.83 235.28h0.01M490.27 234.98h0.01M492.7 234.69h0.01M495.14 234.39h0.01M497.57 234.1h0.01M500.01 233.8h0.01M502.44 233.51h0.01M504.88 232.92h0.01M507.31 232.04h0.01M509.75 229.98h0.01M512.18 227.33h0.01M514.62 223.8h0.01M517.05 220.26h0.01M519.49 205.55h0.01M521.92 200.25h0.01M524.36 195.54h0.01M526.79 193.77h0.01M529.23 190.83h0.01M531.66 187.3h0.01M534.09 185.53h0.01M536.53 184.36h0.01M538.96 183.18h0.01M541.4 186.71h0.01M543.83 182h0.01M546.27 170.23h0.01M548.7 167.87h0.01M551.14 166.11h0.01M553.57 170.23h0.01M556.01 177.29h0.01M558.44 182.3h0.01M560.88 182.59h0.01M563.31 182.59h0.01M565.75 182h0.01M568.18 180.24h0.01M570.62 177.88h0.01M573.05 177.88h0.01M575.48 178.18h0.01M577.92 177.29h0.01M580.35 175.53h0.01M582.79 171.99h0.01M585.22 170.52h0.01M587.66 164.05h0.01M590.09 166.7h0.01M592.53 167.58h0.01M594.96 167.58h0.01M597.4 166.7h0.01M599.35 162.93h0.01M601.78 170.23h0.01M603.73 171.99h0.01M604.7 177.29h0.01M606.65 189.07h0.01M608.11 195.95h0.01M610.06 199.96h0.01M612.01 203.78h0.01M613.95 206.73h0.01M615.9 211.67h0.01M618.82 216.26h0.01M621.26 219.09h0.01M624.18 221.68h0.01M626.61 224.39h0.01M629.54 226.27h0.01M633.43 229.09h0.01M636.35 231.16h0.01M638.79 232.92h0.01M641.22 233.51h0.01M643.66 233.8h0.01M646.09 234.1h0.01M648.53 234.1h0.01M650.96 234.39h0.01M653.4 234.1h0.01M655.83 234.98h0.01M658.27 237.04h0.01M660.7 239.28h0.01" stroke="#1818d0" stroke-width="2.0" stroke-linecap="round" fill="none"/>
<path d="M485.4 234.39 485.98 234.34 486.57 234.29 487.15 234.23 487.74 234.18 488.32 234.13 488.91 234.07 489.49 234.02 490.07 233.97 490.66 233.92 491.24 233.86 491.83 233.81 492.41 233.76 493 233.7 493.58 233.65 494.16 233.6 494.75 233.54 495.33 233.47 495.92 233.35 496.5 233.23 497.09 233.12 497.67 233 498.26 232.88 498.84 232.76 499.42 232.65 500.01 232.53 500.59 232.41 501.18 232.29 501.76 232.18 502.35 232.06 502.93 231.83 503.51 231.58 504.1 231.34 504.68 231.09 505.27 230.84 505.85 230.6 506.44 230.35 507.02 230.1 507.6 229.73 508.19 229.24 508.77 228.74 509.36 228.25 509.94 227.59 510.53 226.6 511.11 225.61 511.69 224.62 512.28 223.58 512.86 222.31 513.45 221.04 514.03 219.77 514.62 218.5 515.2 217.02 515.79 215.53 516.37 214.05 516.95 212.56 517.54 211.2 518.12 209.86 518.71 208.51 519.29 207.17 519.88 205.97 520.46 204.84 521.04 203.71 521.63 202.58 522.21 201.45 522.8 200.32 523.38 199.19 523.97 198.06 524.55 196.95 525.13 195.89 525.72 194.83 526.3 193.77 526.89 192.74 527.47 191.82 528.06 190.9 528.64 189.98 529.23 189.07 529.81 188.29 530.39 187.51 530.98 186.73 531.56 185.96 532.15 185.3 532.73 184.66 533.32 184.03 533.9 183.39 534.48 182.8 535.07 182.24 535.65 181.67 536.24 181.11 536.82 180.58 537.41 180.08 537.99 179.59 538.57 179.09 539.16 178.62 539.74 178.2 540.33 177.77 540.91 177.35 541.5 176.94 542.08 176.59 542.66 176.23 543.25 175.88 543.83 175.53 544.42 175.24 545 174.96 545.59 174.68 546.17 174.4 546.75 174.17 547.34 173.96 547.92 173.75 548.51 173.54 549.09 173.4 549.68 173.29 550.26 173.18 550.85 173.08 551.43 172.97 552.01 172.87 552.6 172.76 553.18 172.65 553.77 172.57 554.35 172.52 554.94 172.47 555.52 172.42 556.1 172.37 556.69 172.32 557.27 172.27 557.86 172.22 558.44 172.17 559.03 172.17 559.61 172.16 560.19 172.16 560.78 172.16 561.36 172.15 561.95 172.15 562.53 172.15 563.12 172.14 563.7 172.14 564.28 172.14 564.87 172.13 565.45 172.13 566.04 172.12 566.62 172.12 567.21 172.12 567.79 172.11 568.38 172.11 568.96 172.11 569.54 172.1 570.13 172.1 570.71 172.1 571.3 172.09 571.88 172.09 572.47 172.09 573.05 172.08 573.63 172.08 574.22 172.08 574.8 172.07 575.39 172.07 575.97 172.06 576.56 172.06 577.14 172.06 577.72 172.05 578.31 172.05 578.89 172.05 579.48 172.04 580.06 172.04 580.65 172.04 581.23 172.03 581.82 172.03 582.4 172.03 582.98 172.02 583.57 172.02 584.15 172.02 584.74 172.01 585.32 172.01 585.91 172 586.49 172 587.07 172 587.66 171.99 588.24 172.03 588.83 172.06 589.41 172.1 590 172.14 590.58 172.17 591.16 172.21 591.75 172.24 592.33 172.28 592.92 172.37 593.5 172.48 594.09 172.6 594.67 172.72 595.25 172.84 595.84 173.07 596.42 173.37 597.01 173.66 597.59 173.96 598.18 174.25 598.76 174.7 599.35 175.23 599.93 175.76 600.51 176.29 601.1 176.82 601.68 177.59 602.27 178.47 602.85 179.35 603.44 180.24 604.02 181.12 604.6 182.28 605.19 183.57 605.77 184.87 606.36 186.16 606.94 187.46 607.53 188.91 608.11 190.44 608.69 191.97 609.28 193.5 609.86 195.03 610.45 196.56 611.03 198.09 611.62 199.62 612.2 201.15 612.78 202.68 613.37 204.14 613.95 205.55 614.54 206.96 615.12 208.37 615.71 209.79 616.29 211.12 616.88 212.42 617.46 213.71 618.04 215.01 618.63 216.3 619.21 217.44 619.8 218.5 620.38 219.56 620.97 220.62 621.55 221.68 622.13 222.62 622.72 223.5 623.3 224.39 623.89 225.27 624.47 226.15 625.06 226.88 625.64 227.52 626.22 228.17 626.81 228.82 627.39 229.47 627.98 229.95 628.56 230.35 629.15 230.74 629.73 231.14 630.31 231.54 630.9 231.93 631.48 232.33 632.07 232.51 632.65 232.69 633.24 232.86 633.82 233.04 634.4 233.22 634.99 233.39 635.57 233.54 636.16 233.64 636.74 233.75 637.33 233.85 637.91 233.95 638.5 234.05 639.08 234.1 639.66 234.11 640.25 234.12 640.83 234.13 641.42 234.13 642 234.14 642.59 234.15 643.17 234.16 643.75 234.17 644.34 234.17 644.92 234.18 645.51 234.19 646.09 234.2 646.68 234.2 647.26 234.21 647.84 234.22 648.43 234.23 649.01 234.24 649.6 234.24 650.18 234.25 650.77 234.26 651.35 234.27 651.94 234.27 652.52 234.28 653.1 234.29 653.69 234.3 654.27 234.31 654.86 234.31 655.44 234.32 656.03 234.33 656.61 234.34 657.19 234.35 657.78 234.35 658.36 234.36 658.95 234.37 659.53 234.38 660.12 234.38 660.7 234.39" stroke="#dd1010" stroke-width="2.1" stroke-linejoin="round" fill="none"/>
</g>
<rect x="626.7" y="156.9" width="34" height="12.6" fill="#fff" stroke="#a9a9a9" stroke-width="0.8"/>
<circle cx="629.8" cy="160.4" r="0.9" fill="#1818d0"/>
<line x1="627.5" y1="166.1" x2="632.1" y2="166.1" stroke="#ee1111" stroke-width="1.6"/>
<text x="632.7" y="162.1" class="t" font-size="4.55" font-weight="bold" fill="#000">Raw Data</text>
<text x="632.7" y="167.8" class="t" font-size="4.55" font-weight="bold" fill="#000">Fitted Curve</text>
<rect x="254.5" y="268.1" width="175.9" height="88.3" fill="#fff" stroke="#a9a9a9" stroke-width="1.1"/>
<path d="M254.5 356.4v-1.5M254.5 268.1v1.5M272.09 356.4v-1.5M272.09 268.1v1.5M289.68 356.4v-1.5M289.68 268.1v1.5M307.27 356.4v-1.5M307.27 268.1v1.5M324.86 356.4v-1.5M324.86 268.1v1.5M342.45 356.4v-1.5M342.45 268.1v1.5M360.04 356.4v-1.5M360.04 268.1v1.5M377.63 356.4v-1.5M377.63 268.1v1.5M395.22 356.4v-1.5M395.22 268.1v1.5M412.81 356.4v-1.5M412.81 268.1v1.5M430.4 356.4v-1.5M430.4 268.1v1.5M254.5 356.4h1.5M430.4 356.4h-1.5M254.5 343.79h1.5M430.4 343.79h-1.5M254.5 331.17h1.5M430.4 331.17h-1.5M254.5 318.56h1.5M430.4 318.56h-1.5M254.5 305.94h1.5M430.4 305.94h-1.5M254.5 293.33h1.5M430.4 293.33h-1.5M254.5 280.71h1.5M430.4 280.71h-1.5M254.5 268.1h1.5M430.4 268.1h-1.5" stroke="#a9a9a9" stroke-width="0.8" fill="none"/>
<text x="254.5" y="361.4" class="t" font-size="4.8" font-weight="bold" text-anchor="middle" fill="#000">0</text>
<text x="272.09" y="361.4" class="t" font-size="4.8" font-weight="bold" text-anchor="middle" fill="#000">0.2</text>
<text x="289.68" y="361.4" class="t" font-size="4.8" font-weight="bold" text-anchor="middle" fill="#000">0.4</text>
<text x="307.27" y="361.4" class="t" font-size="4.8" font-weight="bold" text-anchor="middle" fill="#000">0.6</text>
<text x="324.86" y="361.4" class="t" font-size="4.8" font-weight="bold" text-anchor="middle" fill="#000">0.8</text>
<text x="342.45" y="361.4" class="t" font-size="4.8" font-weight="bold" text-anchor="middle" fill="#000">1</text>
<text x="360.04" y="361.4" class="t" font-size="4.8" font-weight="bold" text-anchor="middle" fill="#000">1.2</text>
<text x="377.63" y="361.4" class="t" font-size="4.8" font-weight="bold" text-anchor="middle" fill="#000">1.4</text>
<text x="395.22" y="361.4" class="t" font-size="4.8" font-weight="bold" text-anchor="middle" fill="#000">1.6</text>
<text x="412.81" y="361.4" class="t" font-size="4.8" font-weight="bold" text-anchor="middle" fill="#000">1.8</text>
<text x="430.4" y="361.4" class="t" font-size="4.8" font-weight="bold" text-anchor="middle" fill="#000">2</text>
<text x="253.9" y="358.1" class="t" font-size="4.8" font-weight="bold" text-anchor="end" fill="#000">3</text>
<text x="253.9" y="345.49" class="t" font-size="4.8" font-weight="bold" text-anchor="end" fill="#000">4</text>
<text x="253.9" y="332.87" class="t" font-size="4.8" font-weight="bold" text-anchor="end" fill="#000">5</text>
<text x="253.9" y="320.26" class="t" font-size="4.8" font-weight="bold" text-anchor="end" fill="#000">6</text>
<text x="253.9" y="307.64" class="t" font-size="4.8" font-weight="bold" text-anchor="end" fill="#000">7</text>
<text x="253.9" y="295.03" class="t" font-size="4.8" font-weight="bold" text-anchor="end" fill="#000">8</text>
<text x="253.9" y="282.41" class="t" font-size="4.8" font-weight="bold" text-anchor="end" fill="#000">9</text>
<text x="253.9" y="269.8" class="t" font-size="4.8" font-weight="bold" text-anchor="end" fill="#000">10</text>
<text x="342.45" y="366" class="t" font-size="4.65" font-weight="bold" text-anchor="middle" fill="#000">Axial Position (mm)</text>
<text transform="translate(246.9 310.05) rotate(-90)" class="t" font-size="4.35" font-weight="bold" text-anchor="middle" fill="#000">Displacement (μm)</text>
<clipPath id="pch"><rect x="254.5" y="267.1" width="176.9" height="90.3"/></clipPath>
<g clip-path="url(#pch)">
<path d="M254.5 283.24h0.01M255.26 281.59h0.01M256.03 279.95h0.01M256.79 279.07h0.01M257.56 278.52h0.01M258.32 278.15h0.01M259.09 278.06h0.01M259.85 277.97h0.01M260.62 277.88h0.01M261.38 277.79h0.01M262.15 277.7h0.01M262.91 277.61h0.01M263.68 277.7h0.01M264.44 277.97h0.01M265.21 278.25h0.01M265.97 278.52h0.01M266.74 278.79h0.01M267.5 279.56h0.01M268.27 280.39h0.01M269.03 281.21h0.01M269.8 282.03h0.01M270.56 283.02h0.01M271.33 284.39h0.01M272.09 285.76h0.01M272.85 286.17h0.01M273.62 286.58h0.01M274.38 286.99h0.01M275.15 287.41h0.01M275.91 287.69h0.01M276.68 287.78h0.01M277.44 287.87h0.01M278.21 287.96h0.01M278.97 288.05h0.01M279.74 288.15h0.01M280.5 288.24h0.01M281.27 288.42h0.01M282.03 288.69h0.01M282.8 288.97h0.01M283.56 289.24h0.01M284.33 289.52h0.01M285.09 289.05h0.01M285.86 288.5h0.01M286.62 287.95h0.01M287.39 287.41h0.01M288.15 286.84h0.01M288.92 286.24h0.01M289.68 285.63h0.01M290.44 285.03h0.01M291.21 284.43h0.01M291.97 284.55h0.01M292.74 284.99h0.01M293.5 285.43h0.01M294.27 286.01h0.01M295.03 286.99h0.01M295.8 287.98h0.01M296.56 288.97h0.01M297.33 289.96h0.01M298.09 290.94h0.01M298.86 292.04h0.01M299.62 293.25h0.01M300.39 294.45h0.01M301.15 295.66h0.01M301.92 296.87h0.01M302.68 298.07h0.01M303.45 299.75h0.01M304.21 301.57h0.01M304.98 303.4h0.01M305.74 305.34h0.01M306.51 307.53h0.01M307.27 309.73h0.01M308.03 314.66h0.01M308.8 319.6h0.01M309.56 323.77h0.01M310.33 327.61h0.01M311.09 331.01h0.01M311.86 333.75h0.01M312.62 336.38h0.01M313.39 338.03h0.01M314.15 339.67h0.01M314.92 340.88h0.01M315.68 341.98h0.01M316.45 343.35h0.01M317.21 344.99h0.01M317.98 346.45h0.01M318.74 347.19h0.01M319.51 347.92h0.01M320.27 348.65h0.01M321.04 348.91h0.01M321.8 349.02h0.01M322.57 349.13h0.01M323.33 349.24h0.01M324.1 349.35h0.01M324.86 349.46h0.01M325.62 349.4h0.01M326.39 349.33h0.01M327.15 349.26h0.01M327.92 349.2h0.01M328.68 349.13h0.01M329.45 348.97h0.01M330.21 348.54h0.01M330.98 348.1h0.01M331.74 347.66h0.01M332.51 347.35h0.01M333.27 347.08h0.01M334.04 346.8h0.01M334.8 346.53h0.01M335.57 346.29h0.01M336.33 346.21h0.01M337.1 346.13h0.01M337.86 346.05h0.01M338.63 345.96h0.01M339.39 345.94h0.01M340.16 345.95h0.01M340.92 345.96h0.01M341.69 345.97h0.01M342.45 345.99h0.01M343.21 346h0.01M343.98 346.01h0.01M344.74 346.02h0.01M345.51 346.03h0.01M346.27 346.05h0.01M347.04 346.06h0.01M347.8 346.07h0.01M348.57 346.09h0.01M349.33 346.1h0.01M350.1 346.12h0.01M350.86 346.13h0.01M351.63 346.15h0.01M352.39 346.16h0.01M353.16 346.18h0.01M353.92 346.19h0.01M354.69 346.21h0.01M355.45 346.22h0.01M356.22 346.24h0.01M356.98 346.25h0.01M357.75 346.26h0.01M358.51 346.28h0.01M359.28 346.29h0.01M360.04 346.31h0.01M360.8 346.33h0.01M361.57 346.35h0.01M362.33 346.37h0.01M363.1 346.4h0.01M363.86 346.42h0.01M364.63 346.44h0.01M365.39 346.46h0.01M366.16 346.48h0.01M366.92 346.51h0.01M367.69 346.53h0.01M368.45 346.55h0.01M369.22 346.57h0.01M369.98 346.59h0.01M370.75 346.62h0.01M371.51 346.64h0.01M372.28 346.66h0.01M373.04 346.68h0.01M373.81 346.7h0.01M374.57 346.71h0.01M375.34 346.72h0.01M376.1 346.73h0.01M376.87 346.74h0.01M377.63 346.75h0.01M378.39 346.76h0.01M379.16 346.77h0.01M379.92 346.78h0.01M380.69 346.79h0.01M381.45 346.8h0.01M382.22 346.79h0.01M382.98 346.68h0.01M383.75 346.57h0.01M384.51 346.46h0.01M385.28 346.35h0.01M386.04 346.24h0.01M386.81 346.13h0.01M387.57 346.02h0.01M388.34 345.47h0.01M389.1 343.17h0.01M389.87 340.86h0.01M390.63 336.93h0.01M391.4 332.82h0.01M392.16 330.82h0.01M392.93 330.24h0.01M393.69 329.65h0.01M394.46 328.88h0.01M395.22 327.09h0.01M395.98 325.3h0.01M396.75 323.51h0.01M397.51 320.09h0.01M398.28 315.98h0.01M399.04 312.81h0.01M399.81 311.05h0.01M400.57 309.48h0.01M401.34 309.52h0.01M402.1 309.57h0.01M402.87 309.61h0.01M403.63 309.65h0.01M404.4 309.7h0.01M405.16 309.65h0.01M405.93 309.43h0.01M406.69 309.21h0.01M407.46 308.99h0.01M408.22 308.77h0.01M408.99 308.55h0.01M409.75 308.39h0.01M410.52 308.26h0.01M411.28 308.13h0.01M412.05 308.01h0.01M412.81 307.88h0.01M413.57 307.75h0.01M414.34 307.62h0.01M415.1 307.61h0.01M415.87 307.64h0.01M416.63 307.68h0.01M417.4 307.72h0.01M418.16 307.75h0.01M418.93 307.79h0.01M419.69 307.83h0.01M420.46 308.03h0.01M421.22 308.26h0.01M421.99 308.5h0.01M422.75 308.74h0.01M423.52 308.98h0.01M424.28 309.21h0.01M425.05 309.45h0.01M425.81 309.75h0.01M426.58 310.07h0.01M427.34 310.38h0.01M428.11 310.69h0.01M428.87 311h0.01M429.64 311.31h0.01M430.4 311.62h0.01" stroke="#1818d0" stroke-width="2.0" stroke-linecap="round" fill="none"/>
<path d="M254.5 284.88 255.09 284.88 255.67 284.88 256.26 284.88 256.85 284.88 257.43 284.88 258.02 284.88 258.6 284.88 259.19 284.88 259.78 284.88 260.36 284.88 260.95 284.88 261.54 284.88 262.12 284.88 262.71 284.88 263.3 284.88 263.88 284.88 264.47 284.88 265.05 284.88 265.64 284.88 266.23 284.88 266.81 284.88 267.4 284.88 267.99 284.88 268.57 284.88 269.16 284.88 269.74 284.88 270.33 284.88 270.92 284.88 271.5 284.88 272.09 284.88 272.68 284.88 273.26 284.88 273.85 284.88 274.44 284.88 275.02 284.88 275.61 284.88 276.19 284.88 276.78 284.88 277.37 284.88 277.95 284.88 278.54 284.88 279.13 284.88 279.71 284.88 280.3 284.89 280.88 284.89 281.47 284.89 282.06 284.89 282.64 284.9 283.23 284.9 283.82 284.91 284.4 284.92 284.99 284.93 285.58 284.94 286.16 284.95 286.75 284.96 287.33 284.98 287.92 285 288.51 285.03 289.09 285.06 289.68 285.09 290.27 285.13 290.85 285.18 291.44 285.24 292.03 285.32 292.61 285.4 293.2 285.5 293.78 285.62 294.37 285.76 294.96 285.93 295.54 286.13 296.13 286.37 296.72 286.65 297.3 286.98 297.89 287.37 298.48 287.83 299.06 288.37 299.65 289 300.23 289.73 300.82 290.58 301.41 291.56 301.99 292.69 302.58 293.97 303.17 295.43 303.75 297.08 304.34 298.91 304.92 300.93 305.51 303.13 306.1 305.51 306.68 308.03 307.27 310.69 307.86 313.44 308.44 316.24 309.03 319.05 309.62 321.83 310.2 324.53 310.79 327.13 311.37 329.58 311.96 331.88 312.55 333.99 313.13 335.91 313.72 337.65 314.31 339.19 314.89 340.56 315.48 341.77 316.06 342.82 316.65 343.73 317.24 344.52 317.82 345.19 318.41 345.77 319 346.27 319.58 346.69 320.17 347.04 320.76 347.34 321.34 347.6 321.93 347.81 322.51 347.99 323.1 348.14 323.69 348.27 324.27 348.37 324.86 348.46 325.45 348.53 326.03 348.59 326.62 348.64 327.21 348.68 327.79 348.71 328.38 348.73 328.96 348.75 329.55 348.77 330.14 348.78 330.72 348.78 331.31 348.79 331.9 348.79 332.48 348.79 333.07 348.78 333.65 348.78 334.24 348.77 334.83 348.76 335.41 348.75 336 348.74 336.59 348.73 337.17 348.72 337.76 348.7 338.35 348.69 338.93 348.67 339.52 348.65 340.1 348.64 340.69 348.62 341.28 348.6 341.86 348.57 342.45 348.55 343.04 348.53 343.62 348.5 344.21 348.48 344.8 348.45 345.38 348.42 345.97 348.39 346.55 348.36 347.14 348.32 347.73 348.29 348.31 348.25 348.9 348.21 349.49 348.18 350.07 348.13 350.66 348.09 351.25 348.05 351.83 348 352.42 347.95 353 347.9 353.59 347.84 354.18 347.79 354.76 347.73 355.35 347.67 355.94 347.6 356.52 347.53 357.11 347.46 357.69 347.39 358.28 347.31 358.87 347.23 359.45 347.15 360.04 347.07 360.63 346.97 361.21 346.88 361.8 346.78 362.39 346.68 362.97 346.57 363.56 346.46 364.14 346.34 364.73 346.22 365.32 346.1 365.9 345.97 366.49 345.83 367.08 345.69 367.66 345.54 368.25 345.38 368.83 345.22 369.42 345.06 370.01 344.88 370.59 344.7 371.18 344.51 371.77 344.32 372.35 344.12 372.94 343.91 373.53 343.69 374.11 343.46 374.7 343.23 375.28 342.98 375.87 342.73 376.46 342.47 377.04 342.2 377.63 341.92 378.22 341.63 378.8 341.33 379.39 341.02 379.98 340.7 380.56 340.36 381.15 340.02 381.73 339.67 382.32 339.31 382.91 338.93 383.49 338.55 384.08 338.15 384.67 337.74 385.25 337.32 385.84 336.89 386.42 336.45 387.01 335.99 387.6 335.53 388.18 335.05 388.77 334.56 389.36 334.06 389.94 333.55 390.53 333.03 391.12 332.5 391.7 331.96 392.29 331.4 392.87 330.84 393.46 330.27 394.05 329.69 394.63 329.1 395.22 328.5 395.81 327.9 396.39 327.28 396.98 326.67 397.57 326.04 398.15 325.41 398.74 324.77 399.32 324.13 399.91 323.49 400.5 322.84 401.08 322.19 401.67 321.53 402.26 320.88 402.84 320.23 403.43 319.57 404.01 318.92 404.6 318.27 405.19 317.62 405.77 316.97 406.36 316.32 406.95 315.68 407.53 315.05 408.12 314.42 408.71 313.79 409.29 313.18 409.88 312.56 410.46 311.96 411.05 311.36 411.64 310.78 412.22 310.2 412.81 309.63 413.4 309.07 413.98 308.52 414.57 307.98 415.16 307.45 415.74 306.93 416.33 306.42 416.91 305.92 417.5 305.44 418.09 304.96 418.67 304.5 419.26 304.05 419.85 303.61 420.43 303.18 421.02 302.76 421.6 302.35 422.19 301.96 422.78 301.58 423.36 301.2 423.95 300.84 424.54 300.49 425.12 300.15 425.71 299.82 426.3 299.5 426.88 299.2 427.47 298.9 428.05 298.61 428.64 298.33 429.23 298.06 429.81 297.8 430.4 297.55" stroke="#dd1010" stroke-width="2.1" stroke-linejoin="round" fill="none"/>
</g>
<rect x="396.4" y="268.9" width="34" height="12.6" fill="#fff" stroke="#a9a9a9" stroke-width="0.8"/>
<circle cx="399.5" cy="272.4" r="0.9" fill="#1818d0"/>
<line x1="397.2" y1="278.1" x2="401.8" y2="278.1" stroke="#ee1111" stroke-width="1.6"/>
<text x="402.4" y="274.1" class="t" font-size="4.55" font-weight="bold" fill="#000">Raw Data</text>
<text x="402.4" y="279.8" class="t" font-size="4.55" font-weight="bold" fill="#000">Fitted Curve</text>
<rect x="485.4" y="267.6" width="175.3" height="88.7" fill="#fff" stroke="#a9a9a9" stroke-width="1.1"/>
<path d="M485.4 356.3v-1.5M485.4 267.6v1.5M502.93 356.3v-1.5M502.93 267.6v1.5M520.46 356.3v-1.5M520.46 267.6v1.5M537.99 356.3v-1.5M537.99 267.6v1.5M555.52 356.3v-1.5M555.52 267.6v1.5M573.05 356.3v-1.5M573.05 267.6v1.5M590.58 356.3v-1.5M590.58 267.6v1.5M608.11 356.3v-1.5M608.11 267.6v1.5M625.64 356.3v-1.5M625.64 267.6v1.5M643.17 356.3v-1.5M643.17 267.6v1.5M660.7 356.3v-1.5M660.7 267.6v1.5M485.4 356.3h1.5M660.7 356.3h-1.5M485.4 326.73h1.5M660.7 326.73h-1.5M485.4 297.17h1.5M660.7 297.17h-1.5M485.4 267.6h1.5M660.7 267.6h-1.5" stroke="#a9a9a9" stroke-width="0.8" fill="none"/>
<text x="485.4" y="361.3" class="t" font-size="4.8" font-weight="bold" text-anchor="middle" fill="#000">0</text>
<text x="502.93" y="361.3" class="t" font-size="4.8" font-weight="bold" text-anchor="middle" fill="#000">0.2</text>
<text x="520.46" y="361.3" class="t" font-size="4.8" font-weight="bold" text-anchor="middle" fill="#000">0.4</text>
<text x="537.99" y="361.3" class="t" font-size="4.8" font-weight="bold" text-anchor="middle" fill="#000">0.6</text>
<text x="555.52" y="361.3" class="t" font-size="4.8" font-weight="bold" text-anchor="middle" fill="#000">0.8</text>
<text x="573.05" y="361.3" class="t" font-size="4.8" font-weight="bold" text-anchor="middle" fill="#000">1</text>
<text x="590.58" y="361.3" class="t" font-size="4.8" font-weight="bold" text-anchor="middle" fill="#000">1.2</text>
<text x="608.11" y="361.3" class="t" font-size="4.8" font-weight="bold" text-anchor="middle" fill="#000">1.4</text>
<text x="625.64" y="361.3" class="t" font-size="4.8" font-weight="bold" text-anchor="middle" fill="#000">1.6</text>
<text x="643.17" y="361.3" class="t" font-size="4.8" font-weight="bold" text-anchor="middle" fill="#000">1.8</text>
<text x="660.7" y="361.3" class="t" font-size="4.8" font-weight="bold" text-anchor="middle" fill="#000">2</text>
<text x="484.8" y="358" class="t" font-size="4.8" font-weight="bold" text-anchor="end" fill="#000">0</text>
<text x="484.8" y="328.43" class="t" font-size="4.8" font-weight="bold" text-anchor="end" fill="#000">5</text>
<text x="484.8" y="298.87" class="t" font-size="4.8" font-weight="bold" text-anchor="end" fill="#000">10</text>
<text x="484.8" y="269.3" class="t" font-size="4.8" font-weight="bold" text-anchor="end" fill="#000">15</text>
<text x="573.05" y="365.9" class="t" font-size="4.65" font-weight="bold" text-anchor="middle" fill="#000">Axial Position (mm)</text>
<text transform="translate(477.8 309.75) rotate(-90)" class="t" font-size="4.35" font-weight="bold" text-anchor="middle" fill="#000">Young’s Modulus (kPa)</text>
<clipPath id="pci"><rect x="485.4" y="266.6" width="176.3" height="90.7"/></clipPath>
<g clip-path="url(#pci)">
<path d="M485.4 346.48h0.01M486.16 346.48h0.01M486.92 346.48h0.01M487.69 346.48h0.01M488.45 346.48h0.01M489.21 346.48h0.01M489.97 346.47h0.01M490.74 346.42h0.01M491.5 346.37h0.01M492.26 346.32h0.01M493.02 346.27h0.01M493.78 345.91h0.01M494.55 345.4h0.01M495.31 344.52h0.01M496.07 342.98h0.01M496.83 341.48h0.01M497.59 340.84h0.01M498.36 340.2h0.01M499.12 340.52h0.01M499.88 341.16h0.01M500.64 341.4h0.01M501.41 341.14h0.01M502.17 340.81h0.01M502.93 340.04h0.01M503.69 339.27h0.01M504.45 340.03h0.01M505.22 341.05h0.01M505.98 341.73h0.01M506.74 342.11h0.01M507.5 342.42h0.01M508.27 342.47h0.01M509.03 342.52h0.01M509.79 342.57h0.01M510.55 342.62h0.01M511.31 342.67h0.01M512.08 342.55h0.01M512.84 342.24h0.01M513.6 341.93h0.01M514.36 341.62h0.01M515.12 341.31h0.01M515.89 341h0.01M516.65 340.08h0.01M517.41 338.95h0.01M518.17 337.81h0.01M518.94 336.68h0.01M519.7 335.55h0.01M520.46 334.42h0.01M521.22 332.28h0.01M521.98 330.14h0.01M522.75 327.99h0.01M523.51 326.79h0.01M524.27 326.36h0.01M525.03 325.94h0.01M525.8 325.34h0.01M526.56 323.29h0.01M527.32 311.46h0.01M528.08 298.71h0.01M528.84 292.87h0.01M529.61 291.97h0.01M530.37 292.23h0.01M531.13 292.57h0.01M531.89 293.26h0.01M532.65 293.94h0.01M533.42 294.63h0.01M534.18 294.65h0.01M534.94 294.44h0.01M535.7 294.24h0.01M536.47 294.03h0.01M537.23 293.82h0.01M537.99 293.62h0.01M538.75 293.21h0.01M539.51 292.8h0.01M540.28 292.38h0.01M541.04 291.97h0.01M541.8 291.56h0.01M542.56 290.82h0.01M543.33 289.11h0.01M544.09 287.4h0.01M544.85 285.68h0.01M545.61 283.69h0.01M546.37 281.64h0.01M547.14 280.99h0.01M547.9 281.77h0.01M548.66 282.18h0.01M549.42 281.15h0.01M550.18 280.12h0.01M550.95 280.94h0.01M551.71 281.97h0.01M552.47 282.07h0.01M553.23 281.56h0.01M554 281.05h0.01M554.76 280.53h0.01M555.52 280.02h0.01M556.28 282.85h0.01M557.04 285.67h0.01M557.81 286.64h0.01M558.57 286.81h0.01M559.33 286.99h0.01M560.09 287.06h0.01M560.86 286.86h0.01M561.62 286.65h0.01M562.38 286.45h0.01M563.14 286.24h0.01M563.9 286.03h0.01M564.67 285.88h0.01M565.43 285.78h0.01M566.19 285.67h0.01M566.95 285.57h0.01M567.71 285.47h0.01M568.48 285.37h0.01M569.24 284.38h0.01M570 283.09h0.01M570.76 282.77h0.01M571.53 283.63h0.01M572.29 284.48h0.01M573.05 285.34h0.01M573.81 286.54h0.01M574.57 287.74h0.01M575.34 288.94h0.01M576.1 289.48h0.01M576.86 289.48h0.01M577.62 289.48h0.01M578.39 289.48h0.01M579.15 289.48h0.01M579.91 289.48h0.01M580.67 287.83h0.01M581.43 285.78h0.01M582.2 283.72h0.01M582.96 281.66h0.01M583.72 280.15h0.01M584.48 280.79h0.01M585.24 281.43h0.01M586.01 282.07h0.01M586.77 282.72h0.01M587.53 283.59h0.01M588.29 284.62h0.01M589.06 285.65h0.01M589.82 286.68h0.01M590.58 287.71h0.01M591.34 287.71h0.01M592.1 287.71h0.01M592.87 287.71h0.01M593.63 287.71h0.01M594.39 287.71h0.01M595.15 287.21h0.01M595.92 285.24h0.01M596.68 283.27h0.01M597.44 281.3h0.01M598.2 281.38h0.01M598.96 281.98h0.01M599.73 282.58h0.01M600.49 283.03h0.01M601.25 283.21h0.01M602.01 283.38h0.01M602.77 283.55h0.01M603.54 282.95h0.01M604.3 282.26h0.01M605.06 281.58h0.01M605.82 280.51h0.01M606.59 278.96h0.01M607.35 277.42h0.01M608.11 275.88h0.01M608.87 278.28h0.01M609.63 280.68h0.01M610.4 283.08h0.01M611.16 282.84h0.01M611.92 280.44h0.01M612.68 278.04h0.01M613.45 275.86h0.01M614.21 275.69h0.01M614.97 275.52h0.01M615.73 275.35h0.01M616.49 276.07h0.01M617.26 277.27h0.01M618.02 278.47h0.01M618.78 279.6h0.01M619.54 280.46h0.01M620.3 281.31h0.01M621.07 282.17h0.01M621.83 281.35h0.01M622.59 279.98h0.01M623.35 278.61h0.01M624.12 277.81h0.01M624.88 278.32h0.01M625.64 278.84h0.01M626.4 279.35h0.01M627.16 280.3h0.01M627.93 281.33h0.01M628.69 283.74h0.01M629.45 287.3h0.01M630.21 290.83h0.01M630.98 294.28h0.01M631.74 297.73h0.01M632.5 300.86h0.01M633.26 303.44h0.01M634.02 306.03h0.01M634.79 308.62h0.01M635.55 310.99h0.01M636.31 313.26h0.01M637.07 315.53h0.01M637.83 317.89h0.01M638.6 320.83h0.01M639.36 323.76h0.01M640.12 326.44h0.01M640.88 328.7h0.01M641.65 330.95h0.01M642.41 333.22h0.01M643.17 335.49h0.01M643.93 337.77h0.01M644.69 339.45h0.01M645.46 340.21h0.01M646.22 340.97h0.01M646.98 341.74h0.01M647.74 342.09h0.01M648.51 342.35h0.01M649.27 342.61h0.01M650.03 342.88h0.01M650.79 343.14h0.01M651.55 343.29h0.01M652.32 343.29h0.01M653.08 343.29h0.01M653.84 343.28h0.01M654.6 343.21h0.01M655.36 343.15h0.01M656.13 343.08h0.01M656.89 343.02h0.01M657.65 341.61h0.01M658.41 341.26h0.01M659.18 343.24h0.01M659.94 345.04h0.01M660.7 346.84h0.01" stroke="#1818d0" stroke-width="2.0" stroke-linecap="round" fill="none"/>
<path d="M485.4 343.76 485.98 343.76 486.57 343.75 487.15 343.75 487.74 343.74 488.32 343.74 488.91 343.74 489.49 343.73 490.07 343.73 490.66 343.72 491.24 343.72 491.83 343.71 492.41 343.71 493 343.7 493.58 343.7 494.16 343.69 494.75 343.69 495.33 343.68 495.92 343.68 496.5 343.67 497.09 343.67 497.67 343.66 498.26 343.66 498.84 343.65 499.42 343.65 500.01 343.65 500.59 343.64 501.18 343.64 501.76 343.63 502.35 343.63 502.93 343.62 503.51 343.62 504.1 343.61 504.68 343.61 505.27 343.6 505.85 343.6 506.44 343.59 507.02 343.59 507.6 343.55 508.19 343.47 508.77 343.39 509.36 343.31 509.94 343.23 510.53 343.15 511.11 343.07 511.69 343 512.28 342.67 512.86 342.35 513.45 342.03 514.03 341.7 514.62 341.38 515.2 341.06 515.79 340.73 516.37 340.12 516.95 339.22 517.54 338.32 518.12 337.42 518.71 336.53 519.29 335.63 519.88 334.73 520.46 333.83 521.04 332.02 521.63 330.2 522.21 328.39 522.8 326.58 523.38 324.76 523.97 322.95 524.55 321.14 525.13 319.03 525.72 316.62 526.3 314.22 526.89 311.81 527.47 309.41 528.06 307.59 528.64 305.78 529.23 303.97 529.81 302.7 530.39 301.43 530.98 300.16 531.56 298.89 532.15 297.62 532.73 296.35 533.32 295.08 533.9 294.08 534.48 293.33 535.07 292.59 535.65 291.85 536.24 291.11 536.82 290.37 537.41 289.63 537.99 288.89 538.57 288.49 539.16 288.1 539.74 287.71 540.33 287.31 540.91 286.92 541.5 286.52 542.08 286.13 542.66 285.81 543.25 285.58 543.83 285.34 544.42 285.1 545 284.87 545.59 284.63 546.17 284.39 546.75 284.16 547.34 284.06 547.92 283.96 548.51 283.86 549.09 283.76 549.68 283.66 550.26 283.57 550.85 283.47 551.43 283.37 552.01 283.27 552.6 283.17 553.18 283.07 553.77 282.97 554.35 282.88 554.94 282.78 555.52 282.68 556.1 282.65 556.69 282.62 557.27 282.58 557.86 282.55 558.44 282.52 559.03 282.49 559.61 282.46 560.19 282.43 560.78 282.4 561.36 282.36 561.95 282.33 562.53 282.3 563.12 282.27 563.7 282.24 564.28 282.21 564.87 282.21 565.45 282.21 566.04 282.21 566.62 282.21 567.21 282.21 567.79 282.21 568.38 282.21 568.96 282.21 569.54 282.21 570.13 282.21 570.71 282.21 571.3 282.21 571.88 282.21 572.47 282.21 573.05 282.21 573.63 282.21 574.22 282.21 574.8 282.21 575.39 282.21 575.97 282.21 576.56 282.21 577.14 282.21 577.72 282.21 578.31 282.21 578.89 282.21 579.48 282.21 580.06 282.21 580.65 282.21 581.23 282.21 581.82 282.21 582.4 282.21 582.98 282.21 583.57 282.21 584.15 282.21 584.74 282.21 585.32 282.21 585.91 282.21 586.49 282.21 587.07 282.21 587.66 282.21 588.24 282.21 588.83 282.21 589.41 282.21 590 282.21 590.58 282.21 591.16 282.21 591.75 282.21 592.33 282.21 592.92 282.21 593.5 282.21 594.09 282.21 594.67 282.21 595.25 282.21 595.84 282.21 596.42 282.21 597.01 282.21 597.59 282.21 598.18 282.21 598.76 282.21 599.35 282.21 599.93 282.21 600.51 282.21 601.1 282.21 601.68 282.21 602.27 282.21 602.85 282.21 603.44 282.21 604.02 282.21 604.6 282.21 605.19 282.21 605.77 282.21 606.36 282.21 606.94 282.21 607.53 282.21 608.11 282.21 608.69 282.21 609.28 282.21 609.86 282.21 610.45 282.21 611.03 282.21 611.62 282.21 612.2 282.21 612.78 282.21 613.37 282.21 613.95 282.21 614.54 282.21 615.12 282.21 615.71 282.21 616.29 282.21 616.88 282.21 617.46 282.21 618.04 282.21 618.63 282.21 619.21 282.21 619.8 282.21 620.38 282.21 620.97 282.21 621.55 282.29 622.13 282.46 622.72 282.63 623.3 282.8 623.89 282.97 624.47 283.41 625.06 283.84 625.64 284.28 626.22 284.71 626.81 285.5 627.39 286.66 627.98 287.81 628.56 288.96 629.15 290.12 629.73 291.27 630.31 293.03 630.9 295.39 631.48 297.76 632.07 300.12 632.65 302.49 633.24 304.92 633.82 307.35 634.4 309.78 634.99 312.21 635.57 314.64 636.16 317.07 636.74 319.51 637.33 321.94 637.91 324.37 638.5 326.47 639.08 328.57 639.66 330.68 640.25 332.78 640.83 334.34 641.42 335.37 642 336.39 642.59 337.42 643.17 338.44 643.75 339.47 644.34 340.18 644.92 340.59 645.51 340.99 646.09 341.39 646.68 341.8 647.26 342.2 647.84 342.5 648.43 342.7 649.01 342.9 649.6 343.09 650.18 343.29 650.77 343.34 651.35 343.38 651.94 343.43 652.52 343.47 653.1 343.52 653.69 343.56 654.27 343.61 654.86 343.65 655.44 343.7 656.03 343.74 656.61 343.76 657.19 343.76 657.78 343.76 658.36 343.76 658.95 343.76 659.53 343.76 660.12 343.76 660.7 343.76" stroke="#dd1010" stroke-width="2.1" stroke-linejoin="round" fill="none"/>
</g>
<rect x="626.7" y="268.4" width="34" height="12.6" fill="#fff" stroke="#a9a9a9" stroke-width="0.8"/>
<circle cx="629.8" cy="271.9" r="0.9" fill="#1818d0"/>
<line x1="627.5" y1="277.6" x2="632.1" y2="277.6" stroke="#ee1111" stroke-width="1.6"/>
<text x="632.7" y="273.6" class="t" font-size="4.55" font-weight="bold" fill="#000">Raw Data</text>
<text x="632.7" y="279.3" class="t" font-size="4.55" font-weight="bold" fill="#000">Fitted Curve</text>
</svg></body></html>
